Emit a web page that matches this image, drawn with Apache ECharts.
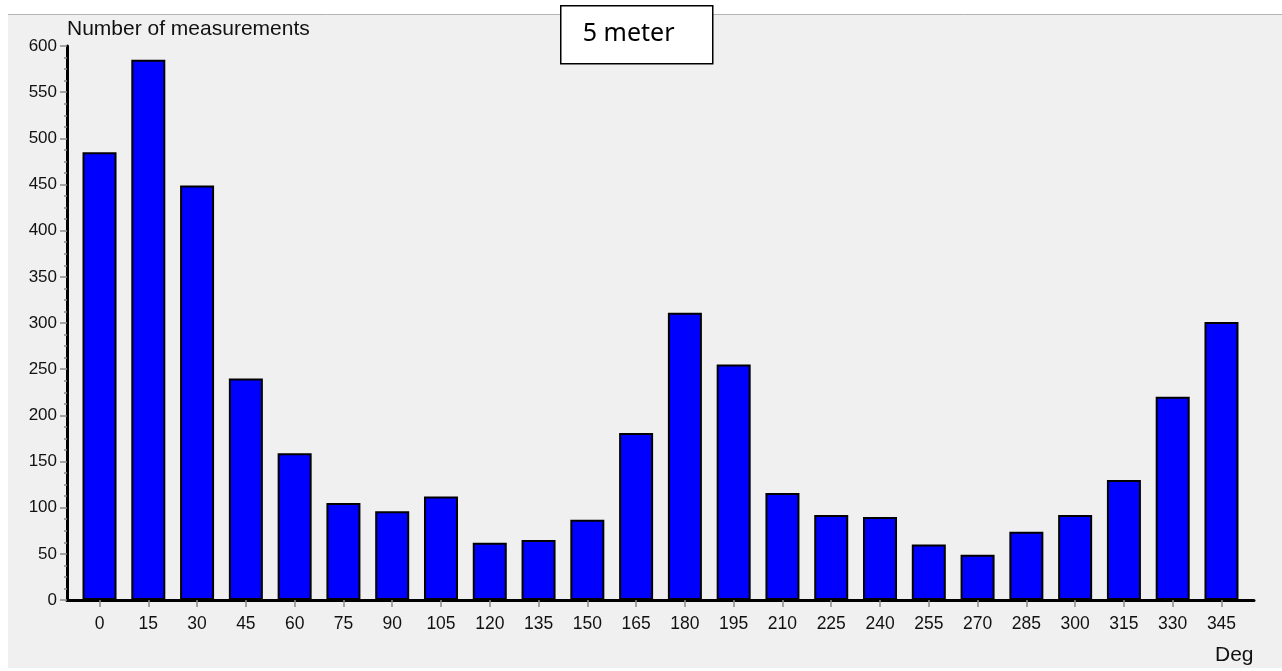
<!DOCTYPE html>
<html>
<head>
<meta charset="utf-8">
<script src="https://cdn.jsdelivr.net/npm/echarts@6/dist/echarts.min.js"></script>
<style>
html,body{margin:0;padding:0;background:#fff;}
#c{width:1282px;height:671px;}
</style>
</head>
<body>
<div id="c"></div>
<script>
const degrees = [0,15,30,45,60,75,90,105,120,135,150,165,180,195,210,225,240,255,270,285,300,315,330,345];
const counts = [485,585,449,240,159,105,96,112,62,65,87,181,311,255,116,92,90,60,49,74,92,130,220,301];
const yTicks = [0,50,100,150,200,250,300,350,400,450,500,550,600];
const yTitle = 'Number of measurements';
const xTitle = 'Deg';
const boxLabel = '5 meter';

const chart = echarts.init(document.getElementById('c'), null, {renderer:'canvas'});
const font = 'Liberation Sans, Arial, sans-serif';
chart.setOption({
  animation:false,
  backgroundColor:'#ffffff',
  grid:{left:67, right:28, top:46, bottom:71, containLabel:false},
  xAxis:{
    type:'value', min:-10, max:355,
    splitLine:{show:false},
    axisLine:{show:true, onZero:false, lineStyle:{color:'#000', width:3}},
    axisTick:{show:true, customValues:degrees, length:7, lineStyle:{color:'#8a8a8a', width:1.5}},
    axisLabel:{customValues:degrees, margin:15, color:'#111', fontSize:17.5, fontFamily:font}
  },
  yAxis:{
    type:'value', min:yTicks[0], max:yTicks[yTicks.length-1], interval:50,
    splitLine:{show:false},
    axisLine:{show:true, onZero:false, lineStyle:{color:'#000', width:3}},
    axisTick:{show:true, length:7, lineStyle:{color:'#8a8a8a', width:1.5}},
    minorTick:{show:true, splitNumber:4, length:3, lineStyle:{color:'#8a8a8a', width:1.5}},
    axisLabel:{margin:10, color:'#111', fontSize:17, fontFamily:font}
  },
  graphic:[
    {type:'rect', z:-10, silent:true, shape:{x:8,y:14,width:1280,height:654}, style:{fill:'#f0f0f0'}},
    {type:'line', z:-9, silent:true, shape:{x1:8,y1:14.5,x2:1282,y2:14.5}, style:{stroke:'#b4b4b4', lineWidth:1}},
    {type:'text', left:67, top:19, style:{text:yTitle, fill:'#111', font:'21px '+font}},
    {type:'text', left:1215, top:645, style:{text:xTitle, fill:'#111', font:'21px '+font}},
    {type:'group', left:560, top:5, children:[
      {type:'rect', shape:{x:0,y:0,width:152,height:58}, style:{fill:'#fff', stroke:'#000', lineWidth:1.5}},
      {type:'text', left:22, top:16, style:{text:boxLabel, fill:'#000', font:'25px "Noto Sans", sans-serif'}}
    ]}
  ],
  series:[{
    type:'bar',
    data:degrees.map((d,i)=>[d,counts[i]]),
    barWidth:34,
    itemStyle:{color:'#0000ff', borderColor:'#000', borderWidth:2}
  }]
});
</script>
</body>
</html>
